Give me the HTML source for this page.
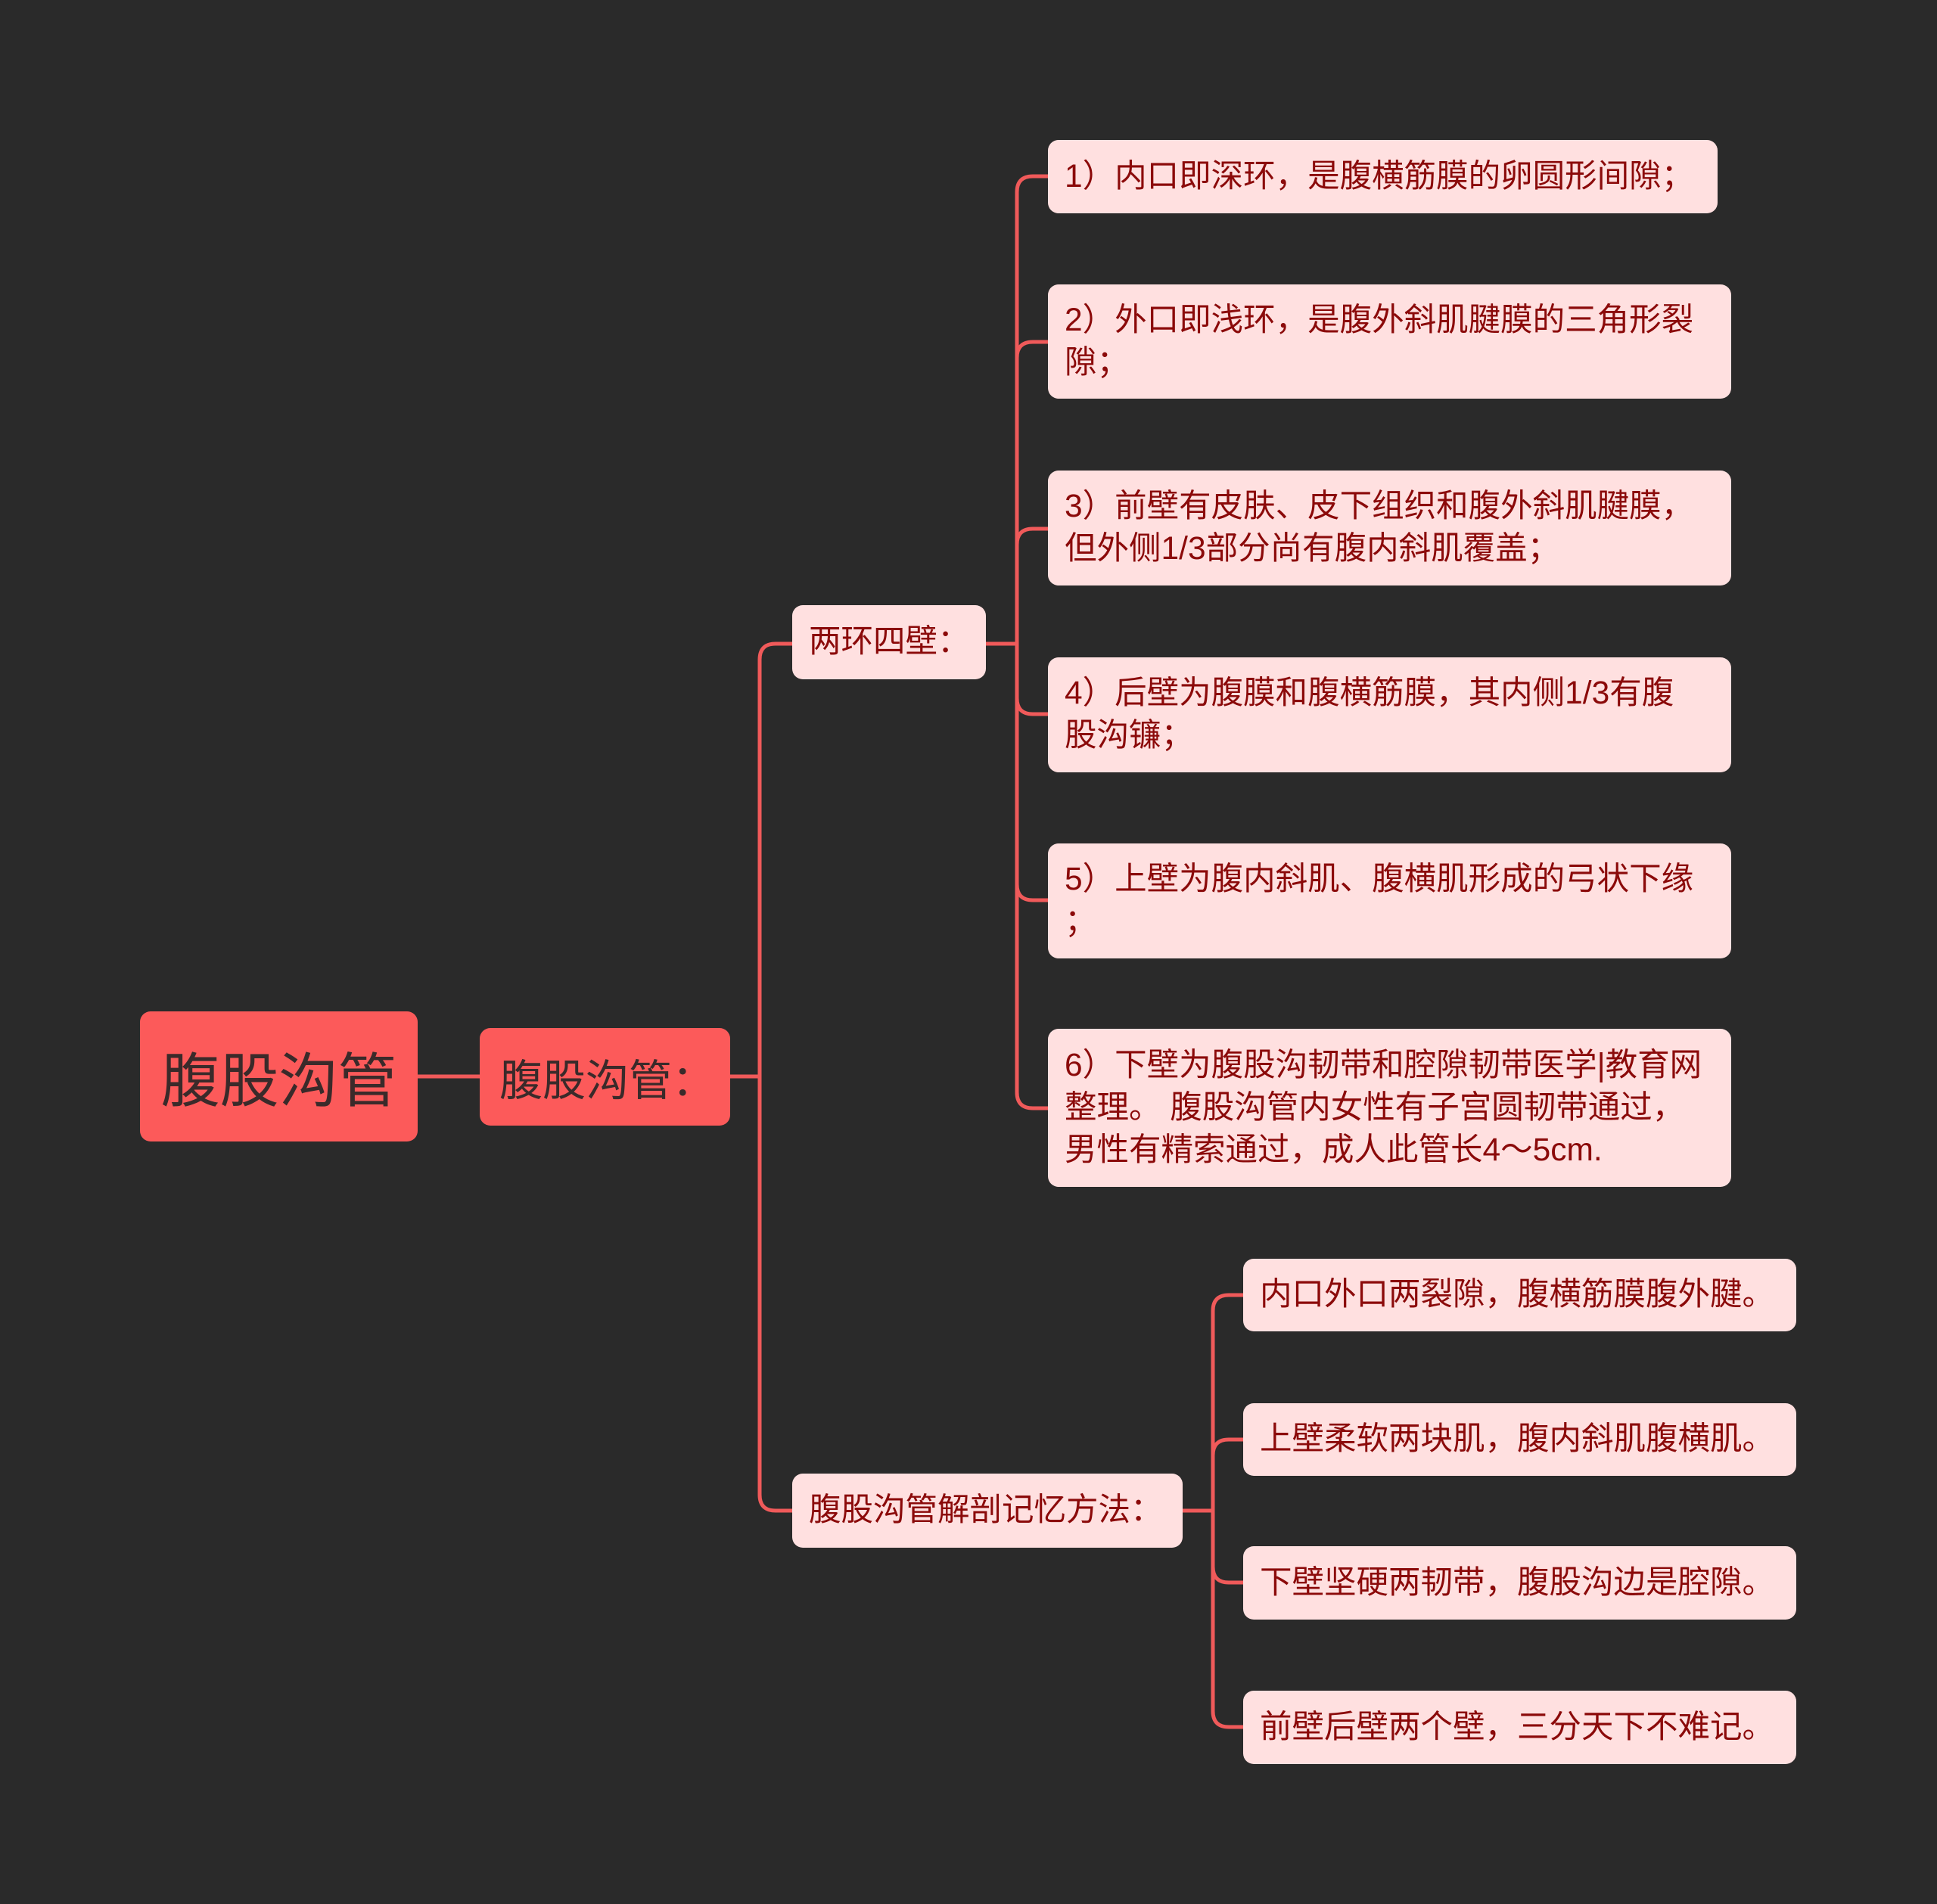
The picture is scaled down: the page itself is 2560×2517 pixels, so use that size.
<!DOCTYPE html>
<html><head><meta charset="utf-8"><style>
body{margin:0;width:2560px;height:2517px;background:#2a2a2a;position:relative;overflow:hidden;font-family:"Liberation Sans","Noto Sans CJK SC",sans-serif}
.n{position:absolute;box-sizing:border-box;border-radius:14px;display:flex;align-items:center;white-space:nowrap}
.c{background:#ffe0e0;color:#8b0a0a;font-size:42.5px;line-height:56px;padding:0 22px}
svg{position:absolute;left:0;top:0}
</style></head><body>
<svg width="2560" height="2517" fill="none" stroke="#f05a5a" stroke-width="5">
<path d="M552 1423H634"/>
<path d="M965 1423H1004"/>
<path d="M1004 1423V872Q1004 851 1025 851H1047"/>
<path d="M1004 1423V1976Q1004 1997 1025 1997H1047"/>
<path d="M1303 851H1344"/>
<path d="M1344 851V254Q1344 233 1365 233H1385"/>
<path d="M1344 851V473Q1344 452 1365 452H1385"/>
<path d="M1344 851V720Q1344 699 1365 699H1385"/>
<path d="M1344 851V923Q1344 944 1365 944H1385"/>
<path d="M1344 851V1169Q1344 1190 1365 1190H1385"/>
<path d="M1344 851V1444Q1344 1465 1365 1465H1385"/>
<path d="M1563 1997H1603"/>
<path d="M1603 1997V1733Q1603 1712 1624 1712H1643"/>
<path d="M1603 1997V1924Q1603 1903 1624 1903H1643"/>
<path d="M1603 1997V2071Q1603 2092 1624 2092H1643"/>
<path d="M1603 1997V2262Q1603 2283 1624 2283H1643"/>
</svg>
<div class="n" style="left:185px;top:1337px;width:367px;height:172px;background:#fc5a5a;color:#3a2a2a;font-size:78px;justify-content:center">腹股沟管</div>
<div class="n" style="left:634px;top:1359px;width:331px;height:129px;background:#fc5a5a;color:#3a2a2a;font-size:57px;padding-left:26px">腹股沟管：</div>
<div class="n c" style="left:1047px;top:800px;width:256px;height:98px">两环四壁：</div>
<div class="n c" style="left:1047px;top:1948px;width:516px;height:98px">腹股沟管解剖记忆方法：</div>
<div class="n c" style="left:1385px;top:185px;width:885px;height:97px">1）内口即深环，是腹横筋膜的卵圆形间隙；</div>
<div class="n c" style="left:1385px;top:376px;width:903px;height:151px"><div>2）外口即浅环，是腹外斜肌腱膜的三角形裂<br>隙；</div></div>
<div class="n c" style="left:1385px;top:622px;width:903px;height:152px"><div>3）前壁有皮肤、皮下组织和腹外斜肌腱膜，<br>但外侧1/3部分尚有腹内斜肌覆盖；</div></div>
<div class="n c" style="left:1385px;top:869px;width:903px;height:152px"><div>4）后壁为腹膜和腹横筋膜，其内侧1/3有腹<br>股沟镰；</div></div>
<div class="n c" style="left:1385px;top:1115px;width:903px;height:152px"><div>5）上壁为腹内斜肌、腹横肌形成的弓状下缘<br>；</div></div>
<div class="n c" style="left:1385px;top:1360px;width:903px;height:209px"><div>6）下壁为腹股沟韧带和腔隙韧带医学|教育网<br>整理。 腹股沟管内女性有子宫圆韧带通过，<br>男性有精索通过，成人此管长4～5cm.</div></div>
<div class="n c" style="left:1643px;top:1664px;width:731px;height:96px">内口外口两裂隙，腹横筋膜腹外腱。</div>
<div class="n c" style="left:1643px;top:1855px;width:731px;height:96px">上壁柔软两块肌，腹内斜肌腹横肌。</div>
<div class="n c" style="left:1643px;top:2044px;width:731px;height:97px">下壁坚硬两韧带，腹股沟边是腔隙。</div>
<div class="n c" style="left:1643px;top:2235px;width:731px;height:97px">前壁后壁两个壁，三分天下不难记。</div>
</body></html>
